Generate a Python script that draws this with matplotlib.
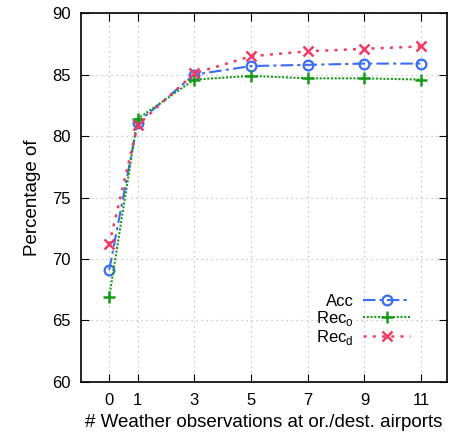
import matplotlib.pyplot as plt

plt.rcParams['font.family'] = ['Liberation Sans', 'DejaVu Sans']

x = [0, 1, 3, 5, 7, 9, 11]
acc = [69.1, 81.1, 85.0, 85.7, 85.8, 85.9, 85.9]
rec_o = [66.9, 81.4, 84.6, 84.9, 84.7, 84.7, 84.6]
rec_d = [71.2, 80.9, 85.1, 86.5, 86.9, 87.1, 87.3]

fig = plt.figure(figsize=(4.49, 4.40), dpi=100)
ax = fig.add_axes([0.180, 0.132, 0.815, 0.838])

ax.plot(x, acc, color='#3a6cf4', linestyle=(0, (6, 2, 1.5, 2)), lw=1.5,
        marker='o', mfc='none', mew=1.6, ms=7, label='Acc')
ax.plot(x, rec_o, color='#1a9a1a', linestyle=(0, (1, 0.8)), lw=1.5,
        marker='+', mew=1.8, ms=8, label='Rec$_\\mathregular{o}$')
ax.plot(x, rec_d, color='#f03c64', linestyle=(0, (1.2, 2.5)), lw=1.8,
        marker='x', mew=1.8, ms=7, label='Rec$_\\mathregular{d}$')

ax.set_xlim(-1, 11.9)
ax.set_ylim(60, 90)
ax.set_xticks(x)
ax.set_yticks(range(60, 91, 5))
ax.tick_params(direction='in', top=True, right=True, labelsize=12, length=6)
ax.tick_params(axis='x', pad=8)
ax.tick_params(axis='y', pad=7)
ax.grid(True, linestyle=(0, (1, 3)), color='#bbbbbb', lw=0.9)
for s in ax.spines.values():
    s.set_linewidth(1.2)

ax.set_xlabel('# Weather observations at or./dest. airports', fontsize=13.5, labelpad=4)
ax.set_ylabel('Percentage of', fontsize=13.5, labelpad=8)

ax.legend(loc='lower right', bbox_to_anchor=(0.90, 0.095), frameon=False,
          markerfirst=False, fontsize=12, handlelength=2.8, labelspacing=0.0,
          handletextpad=0.6, borderaxespad=0, borderpad=0)

fig.savefig('out.png', dpi=100)
